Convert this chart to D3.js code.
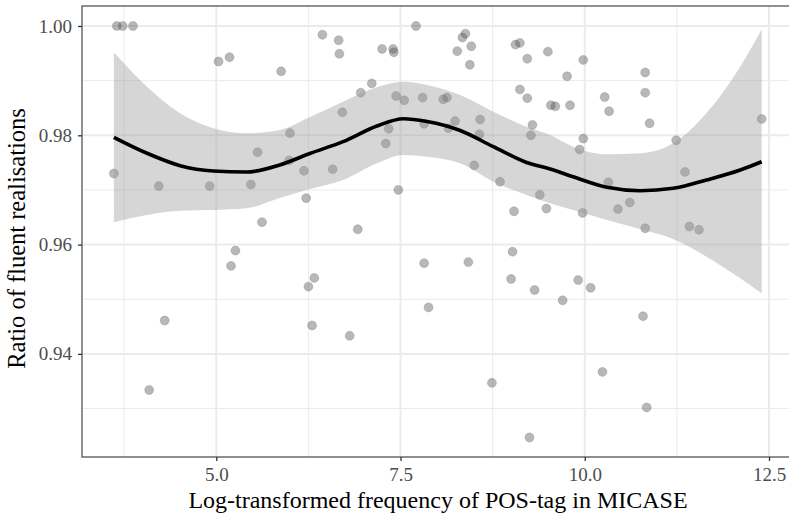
<!DOCTYPE html>
<html>
<head>
<meta charset="utf-8">
<script src="https://cdn.jsdelivr.net/npm/d3@7"></script>
<style>
    body { margin: 0; background: #fff; }
    #chart { width: 789px; height: 517px; }
    text { font-family: "Liberation Serif", "Times New Roman", serif; }
</style>
</head>
<body>
<div id="chart"></div>
<script>
// scatter points: log frequency and ratio of fluent realisations
var freq = [3.61, 3.65, 3.73, 3.87, 4.22, 4.30, 4.09, 5.03, 5.18, 4.91, 5.26, 5.20, 5.47, 5.56, 5.62, 5.88, 6.00,
    5.99, 6.19, 6.22, 6.33, 6.25, 6.30, 6.44, 6.66, 6.67, 7.25, 7.40, 7.41, 7.71, 8.34, 8.38, 8.27, 8.46, 8.44,
    9.06, 9.12, 9.22, 9.50, 7.11, 6.96, 7.44, 7.55, 7.80, 8.08, 8.13, 6.71, 9.12, 9.22, 9.54, 9.60, 7.34, 7.30,
    7.82, 8.24, 8.15, 8.58, 8.57, 9.29, 9.27, 6.58, 8.50, 8.85, 7.47, 9.39, 9.48, 9.04, 6.92, 6.81, 7.82, 8.42,
    9.02, 9.00, 9.32, 7.88, 8.74, 9.25, 9.98, 9.76, 10.82, 10.82, 10.27, 10.33, 10.88, 9.80, 9.98, 9.93, 11.24,
    12.40, 11.36, 10.32, 9.97, 10.45, 10.61, 10.82, 11.42, 11.55, 9.91, 10.08, 9.70, 10.79, 10.24, 10.84];
var ratio = [0.9730, 1.0000, 1.0000, 1.0000, 0.9707, 0.9461, 0.9334, 0.9935, 0.9943, 0.9707, 0.9589, 0.9561,
    0.9710, 0.9769, 0.9641, 0.9917, 0.9804, 0.9754, 0.9735, 0.9685, 0.9539, 0.9523, 0.9452, 0.9984, 0.9974,
    0.9949, 0.9958, 0.9958, 0.9952, 1.0000, 0.9979, 0.9986, 0.9954, 0.9963, 0.9929, 0.9966, 0.9969, 0.9940,
    0.9953, 0.9895, 0.9878, 0.9872, 0.9864, 0.9869, 0.9866, 0.9869, 0.9842, 0.9884, 0.9868, 0.9855, 0.9853,
    0.9812, 0.9785, 0.9821, 0.9826, 0.9813, 0.9829, 0.9802, 0.9819, 0.9800, 0.9738, 0.9745, 0.9715, 0.9700,
    0.9691, 0.9666, 0.9661, 0.9628, 0.9433, 0.9566, 0.9568, 0.9587, 0.9537, 0.9517, 0.9485, 0.9347, 0.9247,
    0.9938, 0.9908, 0.9915, 0.9878, 0.9870, 0.9844, 0.9822, 0.9855, 0.9794, 0.9774, 0.9791, 0.9830, 0.9733,
    0.9714, 0.9658, 0.9665, 0.9677, 0.9630, 0.9633, 0.9627, 0.9535, 0.9521, 0.9498, 0.9469, 0.9367, 0.9302];

// loess smooth with its confidence band
var smoothX = [3.61, 4.06, 4.51, 4.96, 5.41, 5.86, 6.27, 6.72, 7.18, 7.54, 7.86, 8.31, 8.76, 9.21, 9.53,
    9.84, 10.30, 10.75, 11.20, 11.65, 12.11, 12.40];
var smoothFit = [0.97963, 0.97671, 0.97444, 0.97347, 0.97328, 0.97457, 0.97667, 0.97883, 0.98170, 0.98304,
    0.98252, 0.98088, 0.97791, 0.97502, 0.97383, 0.97242, 0.97048, 0.96986, 0.97030, 0.97182, 0.97365, 0.97517];
var smoothHi = [0.99519, 0.98889, 0.98403, 0.98128, 0.98037, 0.98097, 0.98335, 0.98615, 0.98878, 0.98981,
    0.98920, 0.98737, 0.98432, 0.98157, 0.98006, 0.97791, 0.97652, 0.97671, 0.97854, 0.98403, 0.99255, 0.99940];
var smoothLo = [0.96408, 0.96542, 0.96620, 0.96633, 0.96664, 0.96853, 0.97017, 0.97182, 0.97488, 0.97640,
    0.97608, 0.97488, 0.97151, 0.96908, 0.96756, 0.96633, 0.96450, 0.96285, 0.96102, 0.95779, 0.95383, 0.95109];

var xTicks = [5.0, 7.5, 10.0, 12.5];
var xMinor = [3.75, 6.25, 8.75, 11.25];
var yTicks = [0.94, 0.96, 0.98, 1.00];
var yMinor = [0.93, 0.95, 0.97, 0.99];

function scatterWithSmooth(options) {
    var margin = {top: options.marginTop, right: options.marginRight, bottom: options.marginBottom, left: options.marginLeft},
            width = options.width - margin.left - margin.right,
            height = options.height - margin.top - margin.bottom;

    var svg = d3.select(options.container)
            .append("svg")
            .attr("width", options.width)
            .attr("height", options.height);

    var x = d3.scaleLinear().domain([3.178, 12.839]).range([0, width]),
            y = d3.scaleLinear().domain([0.92113, 1.00366]).range([height, 0]);

    var g = svg.append("g")
            .attr("transform", "translate(" + margin.left + "," + margin.top + ")");

    // grid
    g.selectAll(".minor-x").data(xMinor).enter().append("line")
            .attr("x1", function (d) { return x(d); }).attr("x2", function (d) { return x(d); })
            .attr("y1", 0).attr("y2", height)
            .attr("stroke", "#ebebeb").attr("stroke-width", 1);
    g.selectAll(".minor-y").data(yMinor).enter().append("line")
            .attr("x1", 0).attr("x2", width)
            .attr("y1", function (d) { return y(d); }).attr("y2", function (d) { return y(d); })
            .attr("stroke", "#ebebeb").attr("stroke-width", 1);
    g.selectAll(".major-x").data(xTicks).enter().append("line")
            .attr("x1", function (d) { return x(d); }).attr("x2", function (d) { return x(d); })
            .attr("y1", 0).attr("y2", height)
            .attr("stroke", "#ebebeb").attr("stroke-width", 2);
    g.selectAll(".major-y").data(yTicks).enter().append("line")
            .attr("x1", 0).attr("x2", width)
            .attr("y1", function (d) { return y(d); }).attr("y2", function (d) { return y(d); })
            .attr("stroke", "#ebebeb").attr("stroke-width", 2);

    var pts = freq.map(function (d, i) { return {f: d, r: ratio[i]}; });
    var band = smoothX.map(function (d, i) { return {x: d, fit: smoothFit[i], lo: smoothLo[i], hi: smoothHi[i]}; });

    g.selectAll("circle")
            .data(pts)
            .enter().append("circle")
            .attr("cx", function (d) { return x(d.f); })
            .attr("cy", function (d) { return y(d.r); })
            .attr("r", 4.5)
            .attr("fill", "#4d4d4d")
            .attr("fill-opacity", 0.4)
            .attr("stroke", "#4d4d4d")
            .attr("stroke-opacity", 0.25)
            .attr("stroke-width", 0.8);

    var area = d3.area()
            .curve(d3.curveMonotoneX)
            .x(function (d) { return x(d.x); })
            .y0(function (d) { return y(d.lo); })
            .y1(function (d) { return y(d.hi); });
    g.append("path")
            .datum(band)
            .attr("d", area)
            .attr("fill", "#999999")
            .attr("fill-opacity", 0.4);

    var line = d3.line()
            .curve(d3.curveMonotoneX)
            .x(function (d) { return x(d.x); })
            .y(function (d) { return y(d.fit); });
    g.append("path")
            .datum(band)
            .attr("d", line)
            .attr("fill", "none")
            .attr("stroke", "#000")
            .attr("stroke-width", 3.6);

    // panel border
    g.append("rect")
            .attr("x", 0).attr("y", 0)
            .attr("width", width).attr("height", height)
            .attr("fill", "none")
            .attr("stroke", "#555")
            .attr("stroke-width", 1.3);

    var xAxis = g.append("g")
            .attr("transform", "translate(0," + height + ")")
            .call(d3.axisBottom(x).tickValues(xTicks).tickFormat(d3.format(".1f")).tickSize(4).tickPadding(7));
    var yAxis = g.append("g")
            .call(d3.axisLeft(y).tickValues(yTicks).tickFormat(d3.format(".2f")).tickSize(4).tickPadding(6));
    [xAxis, yAxis].forEach(function (a) {
        a.attr("font-family", null).attr("font-size", null);
        a.select(".domain").remove();
        a.selectAll("line").attr("stroke", "#333").attr("stroke-width", 1.3);
        a.selectAll("text")
                .attr("fill", "#4d4d4d")
                .attr("font-family", "Liberation Serif")
                .style("font-size", "19px");
    });

    svg.append("text")
            .attr("x", margin.left + width / 2)
            .attr("y", 508)
            .attr("text-anchor", "middle")
            .attr("fill", "#000")
            .style("font-size", "24px")
            .text("Log-transformed frequency of POS-tag in MICASE");

    svg.append("text")
            .attr("transform", "translate(25," + (margin.top + height / 2 + 7) + ") rotate(-90)")
            .attr("text-anchor", "middle")
            .attr("fill", "#000")
            .style("font-size", "24.5px")
            .text("Ratio of fluent realisations");
}

scatterWithSmooth({
    container: "#chart",
    width: 789,
    height: 517,
    marginTop: 6,
    marginRight: -5,
    marginBottom: 60,
    marginLeft: 82
});
</script>
</body>
</html>
